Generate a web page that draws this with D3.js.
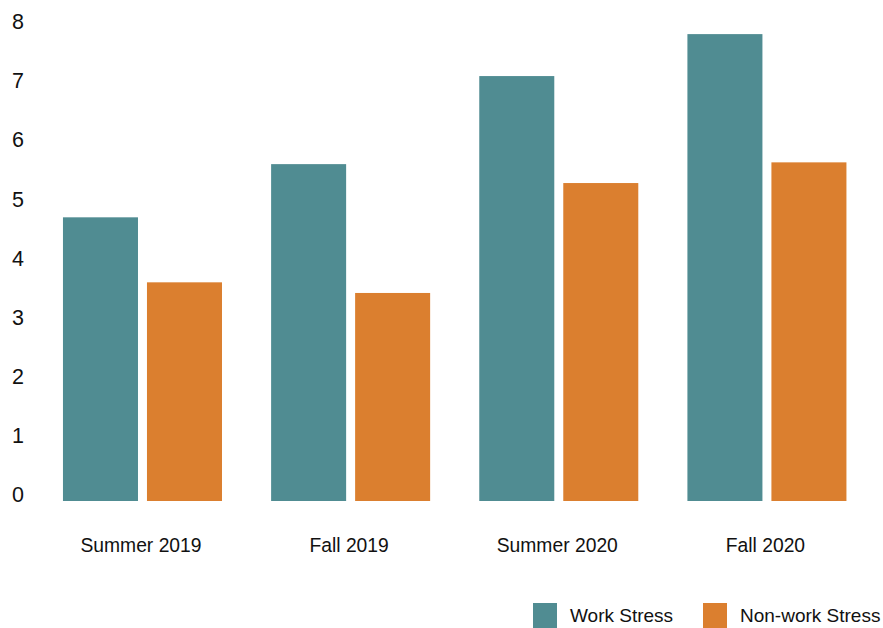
<!DOCTYPE html>
<html>
<head>
<meta charset="utf-8">
<script src="https://cdn.jsdelivr.net/npm/d3@7"></script>
<style>
  html, body { margin: 0; padding: 0; background: #fff; }
  svg { display: block; font-family: "Liberation Sans", Arial, sans-serif; }
</style>
</head>
<body>
<svg id="chart" width="883" height="628"></svg>
<script>
// Average stress ratings per survey wave
const categories = ["Summer 2019", "Fall 2019", "Summer 2020", "Fall 2020"];
const seriesNames = ["Work Stress", "Non-work Stress"];
const workStress = [4.80, 5.70, 7.19, 7.90];
const nonWorkStress = [3.70, 3.52, 5.38, 5.73];
const yTicks = [0, 1, 2, 3, 4, 5, 6, 7, 8];

const colors = { "Work Stress": "#508c92", "Non-work Stress": "#db7f2f" };
const textColor = "#111111";

const rows = categories.map((c, i) => ({
  category: c,
  values: [
    { key: seriesNames[0], value: workStress[i] },
    { key: seriesNames[1], value: nonWorkStress[i] }
  ]
}));

const svg = d3.select("#chart");

const y = d3.scaleLinear().domain([0, 8]).range([501, 28.2]);

const x0 = d3.scaleBand()
  .domain(categories)
  .range([38.4, 871])
  .paddingInner(0.236)
  .paddingOuter(0.118);

const x1 = d3.scaleBand()
  .domain(seriesNames)
  .range([0, x0.bandwidth()])
  .paddingInner(0.107);

// Y axis: labels only, baseline sitting on the tick value
const yAxis = svg.append("g")
  .attr("transform", "translate(12,0)")
  .call(d3.axisLeft(y).tickValues(yTicks).tickSize(0).tickPadding(0));
yAxis.select(".domain").remove();
yAxis.selectAll("text")
  .attr("x", 0)
  .attr("y", 0.5)
  .attr("dy", "0em")
  .attr("text-anchor", "start")
  .attr("fill", textColor)
  .style("font-size", "21.5px")
  .style("font-family", "'Liberation Sans', Arial, sans-serif");

// Bars
const groups = svg.append("g")
  .selectAll("g")
  .data(rows)
  .join("g")
  .attr("transform", d => `translate(${x0(d.category)},0)`);

groups.selectAll("rect")
  .data(d => d.values)
  .join("rect")
  .attr("x", d => x1(d.key))
  .attr("width", x1.bandwidth())
  .attr("y", d => y(d.value))
  .attr("height", d => y(0) - y(d.value))
  .attr("fill", d => colors[d.key]);

// Category axis
const xAxis = svg.append("g")
  .attr("transform", "translate(-1.5,501)")
  .call(d3.axisBottom(x0).tickSize(0).tickPadding(0));
xAxis.select(".domain").remove();
xAxis.selectAll("text")
  .attr("y", 51)
  .attr("dy", "0em")
  .attr("fill", textColor)
  .style("font-size", "19.3px")
  .style("font-family", "'Liberation Sans', Arial, sans-serif");

// Legend
const legendItems = [
  { key: seriesNames[0], x: 533, textX: 570 },
  { key: seriesNames[1], x: 703, textX: 740 }
];
const legend = svg.append("g");
legend.selectAll("rect")
  .data(legendItems)
  .join("rect")
  .attr("x", d => d.x)
  .attr("y", 603)
  .attr("width", 24)
  .attr("height", 25)
  .attr("fill", d => colors[d.key]);
legend.selectAll("text")
  .data(legendItems)
  .join("text")
  .attr("x", d => d.textX)
  .attr("y", 622)
  .attr("fill", textColor)
  .style("font-size", "19px")
  .text(d => d.key);
</script>
</body>
</html>
